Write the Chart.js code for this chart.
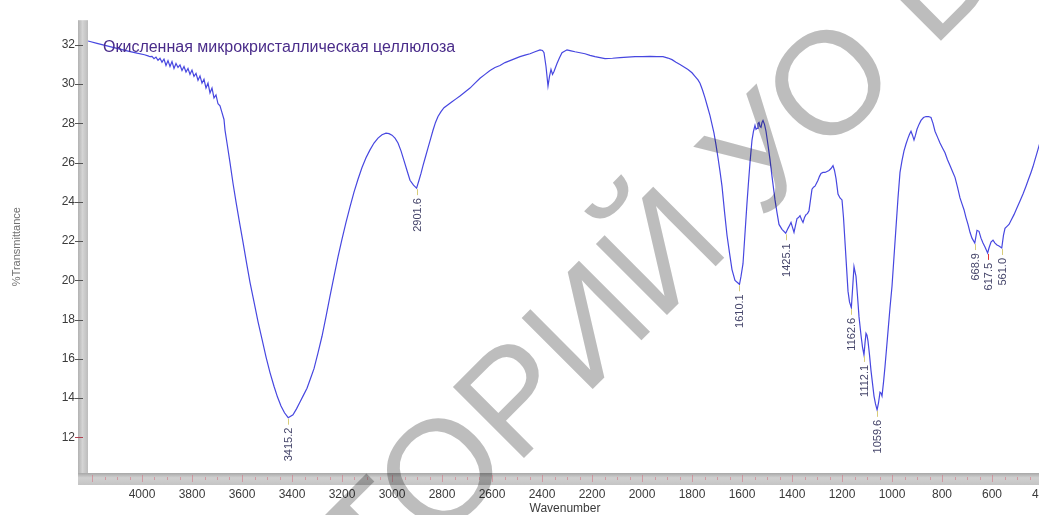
<!DOCTYPE html>
<html>
<head>
<meta charset="utf-8">
<script src="https://cdn.jsdelivr.net/npm/chart.js@4.4.1/dist/chart.umd.min.js"></script>
<style>
  html, body { margin: 0; padding: 0; background: #fff; overflow: hidden; }
  #wrap { width: 1039px; height: 515px; overflow: hidden; position: relative; }
  #wrap canvas { position: absolute; left: 0; top: 0; }
</style>
</head>
<body>
<div id="wrap"><canvas id="spectrum" width="1080" height="515"></canvas></div>
<script>
// IR spectrum: wavenumber (cm-1) and %T
const wavenumbers = [
  4216, 4180, 4140, 4100, 4060, 4020, 3990, 3976, 3968, 3960, 3952, 3944, 3936, 3928, 3920, 3912,
  3904, 3896, 3888, 3880, 3872, 3864, 3856, 3848, 3840, 3832, 3824, 3816, 3808, 3800, 3792, 3784,
  3776, 3768, 3760, 3752, 3744, 3736, 3728, 3720, 3712, 3704, 3696, 3688, 3680, 3672, 3668, 3660,
  3648, 3636, 3624, 3610, 3596, 3582, 3568, 3552, 3536, 3520, 3504, 3488, 3472, 3458, 3444, 3430,
  3415.2, 3396, 3382, 3368, 3354, 3340, 3326, 3312, 3296, 3280, 3264, 3248, 3232, 3216, 3200, 3184,
  3168, 3152, 3136, 3120, 3104, 3088, 3072, 3056, 3040, 3024, 3012, 3000, 2988, 2976, 2964, 2952,
  2940, 2928, 2914, 2901.6, 2892, 2884, 2876, 2866, 2856, 2846, 2836, 2826, 2816, 2804, 2792, 2776,
  2760, 2744, 2728, 2708, 2688, 2668, 2648, 2628, 2608, 2588, 2568, 2548, 2528, 2508, 2488, 2468,
  2448, 2428, 2408, 2398, 2392, 2384, 2376, 2370, 2364, 2358, 2352, 2340, 2330, 2320, 2300, 2284,
  2268, 2248, 2228, 2208, 2188, 2168, 2148, 2118, 2088, 2058, 2028, 1998, 1968, 1940, 1916, 1896,
  1880, 1864, 1848, 1832, 1816, 1800, 1788, 1776, 1768, 1758, 1748, 1738, 1728, 1720, 1712, 1704,
  1696, 1688, 1680, 1670, 1660, 1650, 1640, 1628, 1610.1, 1604, 1596, 1588, 1580, 1574, 1568, 1560,
  1554, 1548, 1544, 1540, 1536, 1532, 1528, 1524, 1520, 1516, 1510, 1504, 1496, 1488, 1480, 1468,
  1460, 1452, 1440, 1425.1, 1416, 1410, 1404, 1398, 1392, 1386, 1380, 1374, 1368, 1362, 1356, 1350,
  1344, 1338, 1332, 1326, 1320, 1314, 1308, 1302, 1296, 1290, 1284, 1276, 1268, 1260, 1252, 1244,
  1236, 1230, 1224, 1220, 1216, 1208, 1200, 1194, 1188, 1182, 1176, 1170, 1162.6, 1156, 1152, 1148,
  1144, 1138, 1132, 1124, 1118, 1112.1, 1108, 1104, 1100, 1096, 1090, 1084, 1078, 1072, 1066, 1059.6,
  1054, 1048, 1044, 1040, 1034, 1028, 1022, 1016, 1008, 1000, 992, 984, 976, 968, 960, 952,
  944, 936, 930, 924, 918, 912, 906, 900, 892, 884, 874, 864, 854, 844, 836, 828,
  818, 808, 798, 788, 778, 768, 758, 748, 738, 728, 720, 712, 704, 696, 688, 680,
  668.9, 660, 652, 644, 636, 628, 617.5, 612, 604, 596, 588, 580, 572, 561.0, 554, 548,
  540, 532, 524, 512, 500, 488, 476, 464, 454, 444, 436, 428, 420, 412, 404, 396
];
const transmittance = [
  32.20, 32.08, 31.95, 31.82, 31.70, 31.58, 31.50, 31.44, 31.40, 31.42, 31.30, 31.38, 31.22, 31.32, 31.12, 31.28,
  30.95, 31.20, 30.90, 31.15, 30.80, 31.05, 30.85, 30.98, 30.70, 30.90, 30.62, 30.80, 30.50, 30.72, 30.40, 30.55,
  30.20, 30.42, 30.05, 30.25, 29.80, 30.05, 29.55, 29.80, 29.30, 29.45, 29.00, 28.90, 28.55, 28.20, 27.66, 27.00,
  26.00, 24.95, 24.00, 22.95, 21.95, 20.90, 19.90, 18.90, 17.90, 17.00, 16.10, 15.30, 14.60, 14.05, 13.60, 13.25,
  13.00, 13.15, 13.45, 13.80, 14.15, 14.50, 15.00, 15.50, 16.30, 17.15, 18.15, 19.20, 20.20, 21.20, 22.10, 22.95,
  23.75, 24.50, 25.15, 25.75, 26.25, 26.65, 27.00, 27.25, 27.42, 27.50, 27.48, 27.40, 27.25, 27.00, 26.60, 26.10,
  25.60, 25.10, 24.85, 24.70, 25.10, 25.45, 25.85, 26.30, 26.75, 27.20, 27.65, 28.05, 28.35, 28.60, 28.80, 28.95,
  29.10, 29.25, 29.40, 29.60, 29.80, 30.05, 30.30, 30.50, 30.70, 30.85, 30.95, 31.10, 31.20, 31.30, 31.40, 31.48,
  31.55, 31.65, 31.75, 31.72, 31.60, 30.90, 29.90, 30.40, 30.75, 30.50, 30.65, 31.05, 31.35, 31.60, 31.75, 31.70,
  31.65, 31.60, 31.55, 31.47, 31.40, 31.35, 31.30, 31.32, 31.35, 31.38, 31.40, 31.40, 31.42, 31.40, 31.40, 31.33,
  31.25, 31.12, 31.00, 30.88, 30.75, 30.58, 30.40, 30.22, 30.05, 29.70, 29.30, 28.85, 28.40, 27.95, 27.50, 26.90,
  26.25, 25.55, 24.80, 23.50, 22.30, 21.40, 20.55, 20.00, 19.80, 20.20, 20.85, 22.40, 23.95, 25.00, 26.00, 27.15,
  27.60, 27.90, 27.70, 27.75, 28.00, 28.05, 27.85, 27.80, 28.05, 28.15, 27.95, 27.60, 26.90, 26.15, 25.30, 24.10,
  23.45, 22.85, 22.60, 22.40, 22.65, 22.80, 22.95, 22.70, 22.45, 22.80, 23.15, 23.20, 23.30, 23.10, 22.95, 23.20,
  23.35, 23.40, 23.55, 24.10, 24.65, 24.75, 24.80, 24.95, 25.10, 25.30, 25.45, 25.50, 25.50, 25.55, 25.60, 25.70,
  25.85, 25.60, 25.20, 24.80, 24.40, 24.20, 24.10, 23.20, 21.95, 20.70, 19.45, 18.90, 18.60, 19.90, 20.70, 20.45,
  20.20, 19.20, 18.15, 17.20, 16.60, 16.20, 16.80, 17.30, 17.20, 16.90, 16.20, 15.40, 14.75, 14.10, 13.70, 13.40,
  13.75, 14.30, 14.25, 14.10, 14.80, 15.60, 16.50, 17.40, 18.60, 19.70, 21.20, 22.70, 24.20, 25.50, 26.10, 26.60,
  26.95, 27.25, 27.45, 27.60, 27.40, 27.15, 27.40, 27.70, 27.95, 28.15, 28.30, 28.35, 28.35, 28.30, 28.00, 27.60,
  27.30, 27.00, 26.75, 26.50, 26.15, 25.85, 25.55, 25.25, 24.75, 24.20, 23.90, 23.60, 23.20, 22.85, 22.45, 22.15,
  21.90, 22.55, 22.50, 22.15, 21.90, 21.70, 21.40, 21.65, 21.95, 22.05, 21.90, 21.80, 21.75, 21.65, 22.30, 22.65,
  22.75, 22.85, 23.05, 23.35, 23.70, 24.05, 24.40, 24.80, 25.15, 25.50, 25.80, 26.15, 26.50, 26.85, 27.20, 27.50
];

// labelled band positions (cm-1); the selected one is marked in red
const peakLabels = [3415.2, 2901.6, 1610.1, 1425.1, 1162.6, 1112.1, 1059.6, 668.9, 617.5, 561.0];
const activePeak = 617.5;

const xTickValues = [4000, 3800, 3600, 3400, 3200, 3000, 2800, 2600, 2400, 2200, 2000, 1800, 1600, 1400, 1200, 1000, 800, 600, 400];
const yTickValues = [12, 14, 16, 18, 20, 22, 24, 26, 28, 30, 32];

const sampleName = 'Окисленная микрокристаллическая целлюлоза';
const xTitle = 'Wavenumber';
const yTitle = '%Transmittance';
const stampText = 'РЕПОЗИТОРИЙ УО ВГУ';

const FONT = '"Liberation Sans", Arial, sans-serif';

// grey frame along the left and bottom edges of the plot, with tick marks
const framePlugin = {
  id: 'frame',
  beforeDraw(chart) {
    const { ctx, chartArea: { left, top, bottom }, width, height } = chart;
    ctx.save();
    ctx.fillStyle = '#ffffff';
    ctx.fillRect(0, 0, width, height);

    let g = ctx.createLinearGradient(left - 10, 0, left, 0);
    g.addColorStop(0, '#b2b2b2');
    g.addColorStop(0.45, '#d4d4d4');
    g.addColorStop(1, '#bcbcbc');
    ctx.fillStyle = g;
    ctx.fillRect(left - 10, top, 10, bottom + 12 - top);

    g = ctx.createLinearGradient(0, bottom, 0, bottom + 12);
    g.addColorStop(0, '#a8a8a8');
    g.addColorStop(0.4, '#d0d0d0');
    g.addColorStop(1, '#c4c4c4');
    ctx.fillStyle = g;
    ctx.fillRect(left - 10, bottom, width, 12);

    // minor marks along the bottom bar
    const xs = chart.scales.x;
    ctx.strokeStyle = 'rgba(215,110,125,0.55)';
    ctx.lineWidth = 1;
    for (let v = 4200; v >= 400; v -= 50) {
      const px = Math.round(xs.getPixelForValue(v)) + 0.5;
      const major = v % 200 === 0;
      ctx.beginPath();
      ctx.moveTo(px, bottom + (major ? 2 : 4));
      ctx.lineTo(px, bottom + (major ? 9 : 7));
      ctx.stroke();
    }

    // tick marks on the left bar
    const ys = chart.scales.y;
    yTickValues.forEach(v => {
      const py = Math.round(ys.getPixelForValue(v)) + 0.5;
      ctx.strokeStyle = v === 12 ? '#b04050' : '#555';
      ctx.beginPath();
      ctx.moveTo(left - 13, py);
      ctx.lineTo(left - 5, py);
      ctx.stroke();
    });
    ctx.restore();
  }
};

// band position labels under each marked minimum
const peakPlugin = {
  id: 'peaks',
  afterDatasetsDraw(chart) {
    const { ctx } = chart;
    const xs = chart.scales.x, ys = chart.scales.y;
    ctx.save();
    ctx.font = '11px ' + FONT;
    peakLabels.forEach(w => {
      const i = wavenumbers.indexOf(w);
      const px = Math.round(xs.getPixelForValue(w)) + 0.5;
      const py = ys.getPixelForValue(transmittance[i]);
      ctx.strokeStyle = w === activePeak ? '#e03535' : '#d8cc78';
      ctx.lineWidth = 1;
      ctx.beginPath();
      ctx.moveTo(px, py + 1);
      ctx.lineTo(px, py + 7);
      ctx.stroke();
      ctx.save();
      ctx.translate(px, py + 10);
      ctx.rotate(-Math.PI / 2);
      ctx.textAlign = 'right';
      ctx.textBaseline = 'middle';
      ctx.fillStyle = '#45456a';
      ctx.fillText(w.toFixed(1), 0, 0);
      ctx.restore();
    });
    ctx.restore();
  }
};

// sample name in the upper-left corner and the repository stamp
const overlayPlugin = {
  id: 'overlay',
  afterDraw(chart) {
    const { ctx, chartArea: { left, top } } = chart;
    ctx.save();
    ctx.font = '16px ' + FONT;
    ctx.fillStyle = '#4a2c8a';
    ctx.textBaseline = 'alphabetic';
    ctx.fillText(sampleName, left + 15, top + 32);
    ctx.restore();

    ctx.save();
    ctx.globalCompositeOperation = 'multiply';
    ctx.fillStyle = '#bdbdbd';
    const size = 146;
    ctx.font = size + 'px ' + FONT;
    const pre = ctx.measureText('РЕПОЗИТ').width;
    const oW = ctx.measureText('О').width;
    ctx.translate(443, 465);
    ctx.rotate(-Math.PI / 4);
    ctx.textBaseline = 'alphabetic';
    ctx.fillText(stampText, -pre - oW / 2, 0.716 * size / 2);
    ctx.restore();
  }
};

new Chart(document.getElementById('spectrum'), {
  type: 'line',
  data: {
    datasets: [{
      data: wavenumbers.map((w, i) => ({ x: w, y: transmittance[i] })),
      borderColor: '#4747e0',
      borderWidth: 1.2,
      pointRadius: 0,
      tension: 0,
      fill: false
    }]
  },
  options: {
    responsive: false,
    animation: false,
    devicePixelRatio: 1,
    layout: { padding: { top: 16, right: 38, left: 0, bottom: 0 } },
    plugins: { legend: { display: false }, tooltip: { enabled: false } },
    scales: {
      x: {
        type: 'linear',
        reverse: true,
        min: 400,
        max: 4216,
        afterBuildTicks: s => { s.ticks = xTickValues.map(v => ({ value: v })); },
        afterFit: s => { s.height = 42; },
        grid: { display: false, drawTicks: false },
        border: { display: false },
        ticks: {
          padding: 14,
          color: '#3a3a3a',
          font: { family: FONT, size: 12 },
          maxRotation: 0,
          autoSkip: false,
          callback: v => String(v)
        },
        title: {
          display: true,
          text: xTitle,
          color: '#3a3a3a',
          font: { family: FONT, size: 12, lineHeight: 1 },
          padding: { top: 0, bottom: 0 }
        }
      },
      y: {
        type: 'linear',
        min: 10.18,
        max: 33.26,
        afterBuildTicks: s => { s.ticks = yTickValues.map(v => ({ value: v })); },
        afterFit: s => { s.width = 88; },
        grid: { display: false, drawTicks: false },
        border: { display: false },
        ticks: {
          padding: 13,
          color: '#3a3a3a',
          font: { family: FONT, size: 12 },
          callback: v => String(v)
        },
        title: {
          display: true,
          text: yTitle,
          color: '#707070',
          font: { family: FONT, size: 11, lineHeight: 1 },
          padding: { top: 11, bottom: 0 }
        }
      }
    }
  },
  plugins: [framePlugin, peakPlugin, overlayPlugin]
});
</script>
</body>
</html>
